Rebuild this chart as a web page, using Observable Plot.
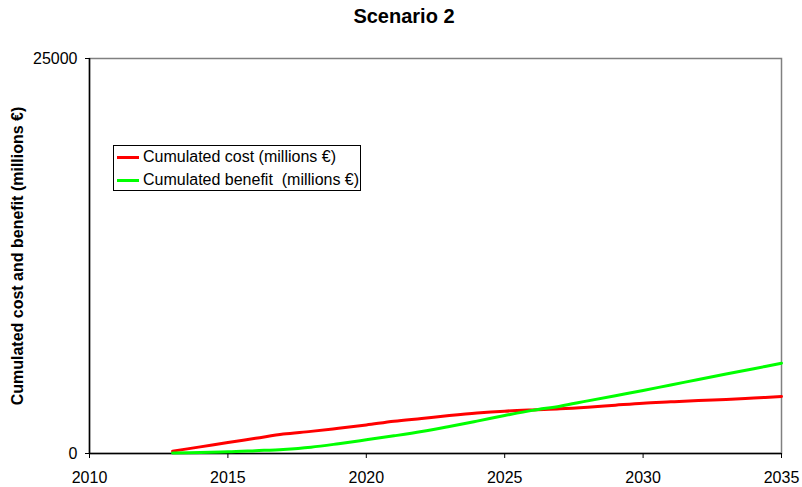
<!DOCTYPE html>
<html>
<head>
<meta charset="utf-8">
<script src="https://cdn.jsdelivr.net/npm/d3@7"></script>
<script src="https://cdn.jsdelivr.net/npm/@observablehq/plot@0.6"></script>
<style>
  body { margin: 0; background: #fff; font-family: "Liberation Sans", Arial, sans-serif; }
  #wrap { position: relative; width: 802px; height: 487px; }
  #title { position: absolute; left: 0; width: 808px; top: 5px; text-align: center; font-weight: bold; font-size: 20px; }
  #legend { position: absolute; left: 113px; top: 145px; width: 246px; height: 44px; border: 1px solid #000; background: #fff; font-size: 16px; }
  .row { position: absolute; left: 3px; height: 18px; display: flex; align-items: center; white-space: nowrap; }
  .sw { width: 22px; height: 3px; margin-right: 4px; }
</style>
</head>
<body>
<div id="wrap">
  <div id="chart"></div>
  <div id="title">Scenario 2</div>
  <div id="legend">
    <div class="row" style="top:2px"><div class="sw" style="background:#ff0000"></div><span>Cumulated cost (millions €)</span></div>
    <div class="row" style="top:25px"><div class="sw" style="background:#00ff00"></div><span>Cumulated benefit&nbsp; (millions €)</span></div>
  </div>
</div>
<script>
const years = [2013,2014,2015,2016,2017,2018,2019,2020,2021,2022,2023,2024,2025,2026,2027,2028,2029,2030,2031,2032,2033,2034,2035];
const cost = [150,420,700,960,1230,1400,1600,1810,2046,2220,2400,2560,2680,2760,2825,2930,3060,3185,3270,3354,3418,3510,3608];
const benefit = [30,70,105,180,260,400,620,865,1118,1390,1710,2050,2400,2730,2994,3330,3660,3987,4340,4680,5030,5370,5715];
const xTicks = [2010,2015,2020,2025,2030,2035];
const yTicks = [0,25000];
const yLabel = "Cumulated cost and benefit (millions €)";

const costData = years.map((y,i) => ({year: y, value: cost[i]}));
const benefitData = years.map((y,i) => ({year: y, value: benefit[i]}));

const chart = Plot.plot({
  width: 802,
  height: 487,
  marginLeft: 89,
  marginRight: 21,
  marginTop: 58,
  marginBottom: 34,
  style: {fontFamily: "'Liberation Sans', Arial, sans-serif", color: "#000", background: "#fff"},
  x: {domain: [2010, 2035]},
  y: {domain: [0, 25000]},
  marks: [
    Plot.frame({stroke: "#808080", strokeWidth: 1.5}),
    Plot.axisX({ticks: xTicks, tickFormat: d => String(d), tickSize: 5, tickPadding: 13, fontSize: 16, label: null}),
    Plot.axisY({ticks: yTicks, tickFormat: d => String(d), tickSize: 4, tickPadding: 8, fontSize: 16, label: null}),
    Plot.ruleY([0], {stroke: "#000", strokeWidth: 1.5}),
    Plot.ruleX([2010], {stroke: "#000", strokeWidth: 1.5}),
    Plot.line(costData, {x: "year", y: "value", stroke: "#ff0000", strokeWidth: 3, curve: "catmull-rom"}),
    Plot.line(benefitData, {x: "year", y: "value", stroke: "#00ff00", strokeWidth: 3, curve: "catmull-rom"}),
    Plot.text([yLabel], {frameAnchor: "left", textAnchor: "middle", dx: -72, rotate: -90, text: d => d, fontWeight: "bold", fontSize: 16, fill: "#000"})
  ]
});
document.getElementById("chart").appendChild(chart);
</script>
</body>
</html>
